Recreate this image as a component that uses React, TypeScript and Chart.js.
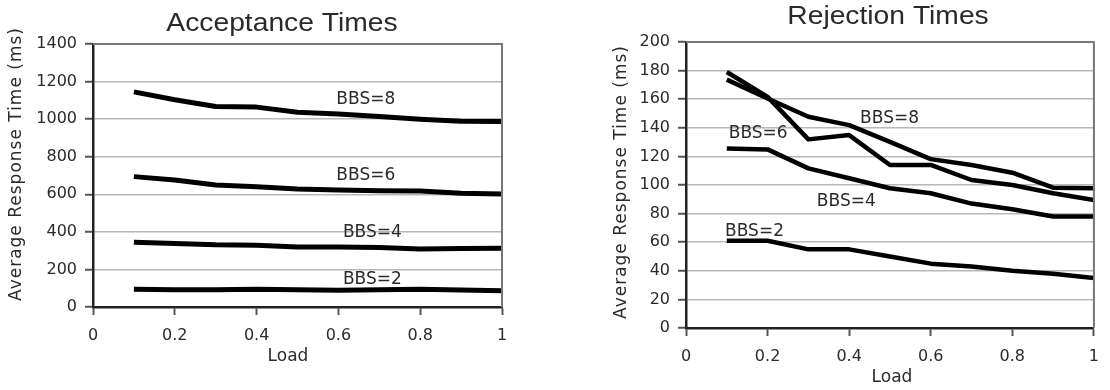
import React, { useEffect, useRef } from "react";
import { Chart, registerables } from "chart.js";

Chart.register(...registerables);

// ---------- data ----------
const loads = [0.1, 0.2, 0.3, 0.4, 0.5, 0.6, 0.7, 0.8, 0.9, 1.0];

const accBbs8 = [1145, 1103, 1067, 1064, 1037, 1028, 1014, 1000, 989, 987];
const accBbs6 = [694, 676, 649, 640, 628, 623, 619, 617, 605, 601];
const accBbs4 = [345, 338, 331, 329, 320, 320, 317, 309, 311, 313];
const accBbs2 = [94, 92, 92, 95, 92, 89, 92, 95, 90, 87];

const rejBbs8 = [173.7, 160.5, 147.7, 141.9, 130.2, 118.1, 114, 108.6, 98.1, 97.7];
const rejBbs6 = [179, 161.6, 131.9, 134.9, 114, 114, 103.5, 100, 94.2, 89.5];
const rejBbs4 = [125.6, 124.9, 111.6, 104.7, 97.7, 94.2, 87, 83, 78, 78];
const rejBbs2 = [61, 61, 55, 55, 50, 45, 43, 40, 38, 35];

const accTitle = "Acceptance Times";
const rejTitle = "Rejection Times";
const yTitle = "Average Response Time (ms)";
const xTitle = "Load";

const accLabelText = ["BBS=8", "BBS=6", "BBS=4", "BBS=2"];
const accLabelX = [0.667, 0.667, 0.683, 0.683];
const accLabelY = [1112, 708, 404, 158];

const rejLabelText = ["BBS=8", "BBS=6", "BBS=4", "BBS=2"];
const rejLabelX = [0.499, 0.177, 0.393, 0.168];
const rejLabelY = [148, 137, 89.7, 68.8];

// ---------- chart spec ----------
type Spec = {
  series: number[][];
  lineWidth: number;
  yMax: number;
  yStep: number;
  title: string;
  titleX: number;
  titleBaseline: number;
  yTitleX: number;
  yTitleY: number;
  xTitleX: number;
  xTitleY: number;
  labelText: string[];
  labelX: number[];
  labelY: number[];
  yWidth: number;
  xHeight: number;
  padTop: number;
  padRight: number;
};

const TEXT = "#2a2a2a";
const FONT = "'DejaVu Sans'";

function makeChart(canvas: HTMLCanvasElement, s: Spec) {
  const decor = {
    id: "decor",
    afterDraw(chart: any) {
      const ctx = chart.ctx as CanvasRenderingContext2D;
      const a = chart.chartArea;
      const xs = chart.scales.x;
      const ys = chart.scales.y;
      ctx.save();
      // top & right frame
      ctx.strokeStyle = "#777";
      ctx.lineWidth = 2;
      ctx.beginPath();
      ctx.moveTo(a.left, a.top);
      ctx.lineTo(a.right, a.top);
      ctx.lineTo(a.right, a.bottom);
      ctx.stroke();

      ctx.fillStyle = TEXT;
      // title (slightly widened)
      ctx.save();
      ctx.translate(s.titleX, s.titleBaseline);
      ctx.scale(1.13, 1);
      ctx.font = "25px 'Liberation Sans'";
      ctx.textAlign = "center";
      ctx.textBaseline = "alphabetic";
      ctx.fillText(s.title, 0, 0);
      ctx.restore();

      // y title
      ctx.save();
      ctx.translate(s.yTitleX, s.yTitleY);
      ctx.rotate(-Math.PI / 2);
      ctx.font = `17px ${FONT}`;
      (ctx as any).letterSpacing = "1px";
      ctx.textAlign = "center";
      ctx.textBaseline = "middle";
      ctx.fillText(yTitle, 0, 0);
      ctx.restore();

      // x title
      ctx.font = `17px ${FONT}`;
      ctx.textAlign = "center";
      ctx.textBaseline = "middle";
      ctx.fillText(xTitle, s.xTitleX, s.xTitleY);

      // series labels
      ctx.font = `17px ${FONT}`;
      ctx.textBaseline = "alphabetic";
      for (let i = 0; i < s.labelText.length; i++) {
        const px = xs.getPixelForValue(s.labelX[i]);
        const py = ys.getPixelForValue(s.labelY[i]);
        ctx.fillText(s.labelText[i], px, py + 6.2);
      }
      ctx.restore();
    },
  };

  return new Chart(canvas, {
    type: "line",
    data: {
      datasets: s.series.map((vals) => ({
        data: loads.map((x, i) => ({ x, y: vals[i] })),
        borderColor: "#000",
        borderWidth: s.lineWidth,
        pointRadius: 0,
        tension: 0,
        fill: false,
        borderJoinStyle: "round" as const,
        borderCapStyle: "butt" as const,
      })),
    },
    options: {
      animation: false,
      responsive: false,
      maintainAspectRatio: false,
      layout: { padding: { top: s.padTop, right: s.padRight, left: 0, bottom: 0 } },
      plugins: { legend: { display: false }, tooltip: { enabled: false }, title: { display: false } },
      scales: {
        x: {
          type: "linear",
          min: 0,
          max: 1,
          afterFit: (sc: any) => {
            sc.height = s.xHeight;
          },
          ticks: {
            stepSize: 0.2,
            color: TEXT,
            font: { family: "DejaVu Sans", size: 16 },
            padding: 11,
            maxRotation: 0,
            callback: (v: any) => String(Math.round(Number(v) * 10) / 10),
          },
          grid: {
            drawOnChartArea: false,
            drawTicks: true,
            tickLength: 8,
            tickColor: "#555",
            tickWidth: 2,
          },
          border: { color: "#222", width: 2.5 },
        },
        y: {
          type: "linear",
          min: 0,
          max: s.yMax,
          afterFit: (sc: any) => {
            sc.width = s.yWidth;
          },
          ticks: {
            stepSize: s.yStep,
            color: TEXT,
            font: { family: "DejaVu Sans", size: 16 },
            padding: 8,
            callback: (v: any) => String(Math.round(Number(v))),
          },
          grid: {
            color: "#b8b8b8",
            lineWidth: 1.5,
            drawTicks: true,
            tickLength: 8,
            tickColor: "#555",
            tickWidth: 2,
          },
          border: { color: "#222", width: 2.5 },
        },
      },
    },
    plugins: [decor],
  } as any);
}

const accSpec: Spec = {
  series: [accBbs8, accBbs6, accBbs4, accBbs2],
  lineWidth: 5,
  yMax: 1400,
  yStep: 200,
  title: accTitle,
  titleX: 282,
  titleBaseline: 31,
  yTitleX: 17,
  yTitleY: 164,
  xTitleX: 288,
  xTitleY: 357,
  labelText: accLabelText,
  labelX: accLabelX,
  labelY: accLabelY,
  yWidth: 93,
  xHeight: 83,
  padTop: 44,
  padRight: 18,
};

const rejSpec: Spec = {
  series: [rejBbs8, rejBbs6, rejBbs4, rejBbs2],
  lineWidth: 4.5,
  yMax: 200,
  yStep: 20,
  title: rejTitle,
  titleX: 298,
  titleBaseline: 23.5,
  yTitleX: 32,
  yTitleY: 182,
  xTitleX: 302,
  xTitleY: 378,
  labelText: rejLabelText,
  labelX: rejLabelX,
  labelY: rejLabelY,
  yWidth: 96,
  xHeight: 62,
  padTop: 42,
  padRight: 7,
};

function ChartCanvas({ spec, left }: { spec: Spec; left: number }) {
  const ref = useRef<HTMLCanvasElement | null>(null);
  useEffect(() => {
    if (!ref.current) return;
    const c = makeChart(ref.current, spec);
    return () => c.destroy();
  }, [spec]);
  return (
    <canvas
      ref={ref}
      width={520}
      height={390}
      style={{ position: "absolute", left, top: 0, width: 520, height: 390 }}
    />
  );
}

export default function App() {
  return (
    <div
      style={{
        position: "absolute",
        left: 0,
        top: 0,
        width: 1110,
        height: 390,
        background: "#fff",
        overflow: "hidden",
      }}
    >
      <ChartCanvas spec={accSpec} left={0} />
      <ChartCanvas spec={rejSpec} left={590} />
    </div>
  );
}
